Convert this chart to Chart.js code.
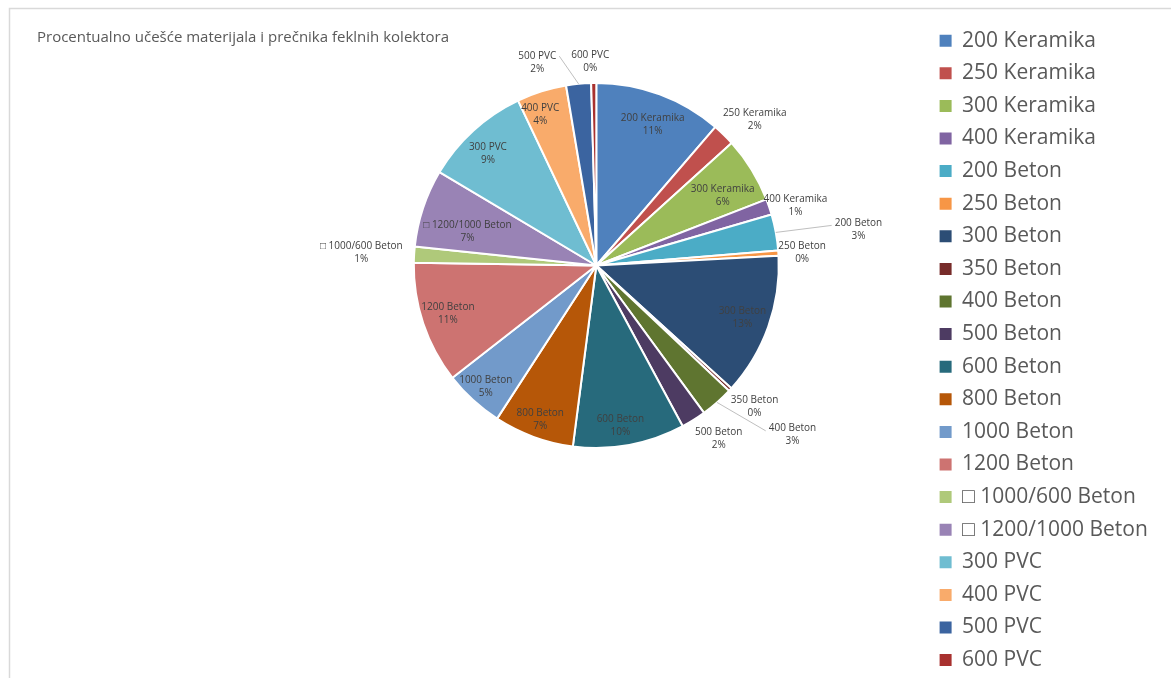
<!DOCTYPE html>
<html>
<head>
<meta charset="utf-8">
<script src="https://cdn.jsdelivr.net/npm/chart.js@4.4.1/dist/chart.umd.min.js"></script>
<style>
  html, body { margin: 0; padding: 0; background: #ffffff; }
  canvas { display: block; }
</style>
</head>
<body>
<canvas id="c" width="1171" height="678"></canvas>
<script>
// ---- data ----
const chartTitle = "Procentualno učešće materijala i prečnika feklnih kolektora";
const categories = [
  "200 Keramika", "250 Keramika", "300 Keramika", "400 Keramika",
  "200 Beton", "250 Beton", "300 Beton", "350 Beton", "400 Beton", "500 Beton",
  "600 Beton", "800 Beton", "1000 Beton", "1200 Beton",
  "\u25A1 1000/600 Beton", "\u25A1 1200/1000 Beton",
  "300 PVC", "400 PVC", "500 PVC", "600 PVC"
];
const shares = [
  11.3, 2.0, 5.8, 1.4,
  3.2, 0.45, 12.6, 0.3, 2.9, 2.2,
  9.9, 7.1, 5.3, 10.8,
  1.4, 6.9,
  9.4, 4.4, 2.2, 0.45
];
const sliceColors = [
  "#4F81BD", "#C0504D", "#9BBB59", "#8064A2",
  "#4BACC6", "#F79646", "#2C4D75", "#772C2A", "#5F7530", "#4D3B62",
  "#276A7C", "#B65708", "#729ACA", "#CD7371",
  "#AFC97A", "#9983B5",
  "#6FBDD1", "#F9AB6B", "#3B64A0", "#A8312F"
];
// label placement (styling): angular shift (deg) from slice middle, radial factor, leader side
const labelShift  = [1.5, 3.1, 2.9, 1.9, 2.6, 0.3, 0, -1.2, -7.8, -3.1, 1.9, -0.2, -0.2, 0.5, -0.2, -3.6, -1.7, -3.0, -10.6, -0.9];
const labelRadius = [0.83, 1.18, 0.79, 1.14, 1.45, 1.13, 0.85, 1.16, 1.42, 1.16, 0.89, 0.9, 0.9, 0.855, 1.29, 0.73, 0.855, 0.88, 1.16, 1.12];
const labelLeader = [null, null, null, null, "left", null, null, null, "left", null, null, null, null, null, null, null, null, null, "right", null];

// ---- layout helpers ----
const legendFont = { family: "'Open Sans'", size: 21 };
const legendPad = 11.6;
const legendBox = 12;
const mctx = document.createElement('canvas').getContext('2d');
mctx.font = legendFont.size + "px 'Open Sans'";
let maxTextW = 0;
categories.forEach(t => { maxTextW = Math.max(maxTextW, mctx.measureText(t).width); });
const boxLeft = 938;
const padRight = 1171 - boxLeft - legendBox - legendFont.size / 2 - maxTextW - legendPad;
const legendLeft = boxLeft - legendPad;
const pieCx = 595.5, pieCy = 265.5, pieR = 182.5;
const padLeft = 2 * pieCx - legendLeft;
const padTop = 18.6, padBottom = -6;
const bottomSpacer = (678 - padBottom) - (2 * pieCy - padTop);

const decorPlugin = {
  id: 'decor',
  beforeDraw(chart) {
    const ctx = chart.ctx;
    ctx.save();
    ctx.fillStyle = '#ffffff';
    ctx.fillRect(0, 0, chart.width, chart.height);
    ctx.strokeStyle = '#D9D9D9';
    ctx.lineWidth = 1.5;
    ctx.beginPath();
    ctx.moveTo(9.5, chart.height);
    ctx.lineTo(9.5, 8.5);
    ctx.lineTo(chart.width, 8.5);
    ctx.stroke();
    ctx.fillStyle = '#595959';
    ctx.font = "15px 'Open Sans'";
    ctx.textAlign = 'left';
    ctx.textBaseline = 'middle';
    ctx.fillText(chartTitle, 37, 38);
    ctx.restore();
  }
};

const labelPlugin = {
  id: 'sliceLabels',
  afterDatasetsDraw(chart) {
    const ctx = chart.ctx;
    const meta = chart.getDatasetMeta(0);
    const data = chart.data.datasets[0].data;
    const total = data.reduce((a, b) => a + b, 0);
    ctx.save();
    ctx.font = "10px 'Open Sans'";
    ctx.textAlign = 'center';
    ctx.textBaseline = 'middle';
    meta.data.forEach((arc, i) => {
      const p = arc.getProps(['x', 'y', 'startAngle', 'endAngle', 'outerRadius'], true);
      const midA = (p.startAngle + p.endAngle) / 2;
      const a = midA + labelShift[i] * Math.PI / 180;
      const r = p.outerRadius * labelRadius[i];
      const lx = p.x + Math.cos(a) * r;
      const ly = p.y + Math.sin(a) * r;
      const name = chart.data.labels[i];
      const pct = Math.round(data[i] / total * 100) + '%';
      const w = ctx.measureText(name).width;
      if (labelLeader[i]) {
        const sx = p.x + Math.cos(midA) * p.outerRadius;
        const sy = p.y + Math.sin(midA) * p.outerRadius;
        let ex, ey;
        if (labelLeader[i] === 'left') { ex = lx - w / 2 - 3; ey = ly - 4; }
        else { ex = lx + w / 2 + 3; ey = ly - 6; }
        ctx.strokeStyle = '#BFBFBF';
        ctx.lineWidth = 1;
        ctx.beginPath();
        ctx.moveTo(sx, sy);
        ctx.lineTo(ex, ey);
        ctx.stroke();
      }
      ctx.fillStyle = '#404040';
      ctx.fillText(name, lx, ly - 6.5);
      ctx.fillText(pct, lx, ly + 6.5);
    });
    ctx.restore();
  }
};

new Chart(document.getElementById('c'), {
  type: 'pie',
  data: {
    labels: categories,
    datasets: [{
      data: shares,
      backgroundColor: sliceColors,
      borderColor: '#ffffff',
      borderWidth: 2,
      radius: pieR
    }]
  },
  options: {
    responsive: false,
    animation: false,
    devicePixelRatio: 1,
    layout: { padding: { left: padLeft, right: padRight, top: padTop, bottom: padBottom } },
    plugins: {
      tooltip: { enabled: false },
      title: {
        display: true,
        position: 'bottom',
        fullSize: false,
        text: ' ',
        color: 'rgba(0,0,0,0)',
        font: { size: 1, lineHeight: 1 },
        padding: { top: 0, bottom: bottomSpacer - 1 }
      },
      legend: {
        position: 'right',
        align: 'start',
        labels: {
          font: legendFont,
          color: '#595959',
          boxWidth: legendBox,
          boxHeight: legendBox,
          padding: legendPad,
          generateLabels(chart) {
            const items = Chart.overrides.pie.plugins.legend.labels.generateLabels(chart);
            items.forEach(it => { it.lineWidth = 0; it.strokeStyle = 'rgba(0,0,0,0)'; });
            return items;
          }
        }
      }
    }
  },
  plugins: [decorPlugin, labelPlugin]
});
</script>
</body>
</html>
